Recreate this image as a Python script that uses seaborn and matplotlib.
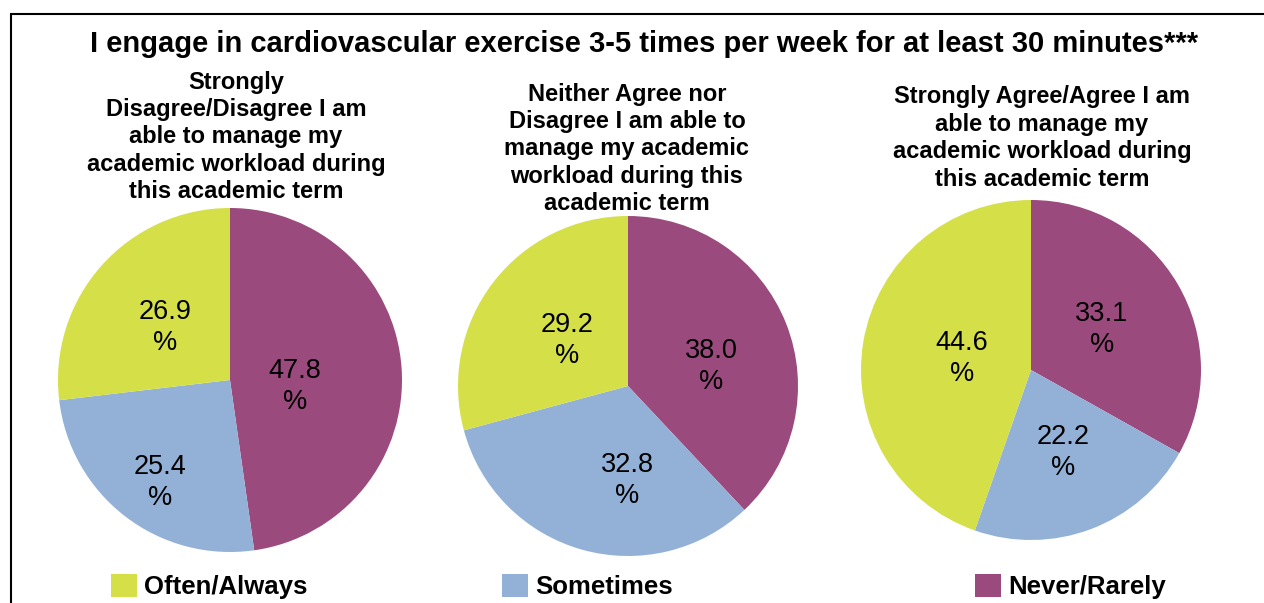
import seaborn as sns
import matplotlib.pyplot as plt
from matplotlib.patches import Rectangle

sns.set_theme(style="white")
plt.rcParams['font.family'] = ['Liberation Sans', 'DejaVu Sans']
plt.rcParams['text.color'] = 'black'

title = "I engage in cardiovascular exercise 3-5 times per week for at least 30 minutes***"
categories = ['Never/Rarely', 'Sometimes', 'Often/Always']
colors = ['#9B4A7D', '#93B1D7', '#D5DF47']
subtitles = [
    "Strongly\nDisagree/Disagree I am\nable to manage my\nacademic workload during\nthis academic term",
    "Neither Agree nor\nDisagree I am able to\nmanage my academic\nworkload during this\nacademic term",
    "Strongly Agree/Agree I am\nable to manage my\nacademic workload during\nthis academic term",
]
disagree = [47.8, 25.4, 26.9]
neutral = [38.0, 32.8, 29.2]
agree = [33.1, 22.2, 44.6]
series = [disagree, neutral, agree]

W, H = 1264, 603
fig = plt.figure(figsize=(W / 100, H / 100), dpi=100)

# pie centre (px), radius (px), label spots (pie-radius units), subtitle centre (px)
layout = [
    ((230, 380), 172, [(0.378, -0.038), (-0.407, -0.596), (-0.378, 0.305)], (236, 137)),
    ((628, 386), 170, [(0.488, 0.115), (-0.006, -0.556), (-0.359, 0.268)], (627, 149)),
    ((1031, 370), 170, [(0.418, 0.238), (0.188, -0.485), (-0.406, 0.068)], (1042, 138)),
]

for vals, (c, r, spots, sub), text in zip(series, layout, subtitles):
    ax = fig.add_axes([(c[0] - r) / W, (H - c[1] - r) / H, 2 * r / W, 2 * r / H])
    ax.pie(vals, colors=colors, startangle=90, counterclock=False,
           wedgeprops=dict(linewidth=0))
    ax.set_xlim(-1, 1)
    ax.set_ylim(-1, 1)
    for v, (lx, ly) in zip(vals, spots):
        ax.text(lx, ly, f"{v:.1f}\n%", ha='center', va='center',
                fontsize=19.5, linespacing=1.25, color='black')
    fig.text(sub[0] / W, 1 - sub[1] / H, text, ha='center', va='center',
             fontsize=17, fontweight='bold', linespacing=1.25)

fig.text(644 / W, 1 - 44 / H, title, ha='center', va='center',
         fontsize=21, fontweight='bold')

# legend entries spread along the bottom
wedges = ax.patches
for w, lab, x in zip(wedges, categories, [975, 502, 111]):
    fig.legend([w], [lab], loc='upper left', bbox_to_anchor=(x / W, 1 - 574 / H),
               frameon=False, prop=dict(weight='bold', size=18.5),
               handlelength=1.0, handleheight=1.0, handletextpad=0.3,
               borderpad=0, borderaxespad=0)

fig.add_artist(Rectangle((11 / W, -0.1), 1.1, 1.1 - 14 / H, transform=fig.transFigure,
                         fill=False, edgecolor='black', linewidth=1.5))

fig.savefig('out.png', dpi=100)
